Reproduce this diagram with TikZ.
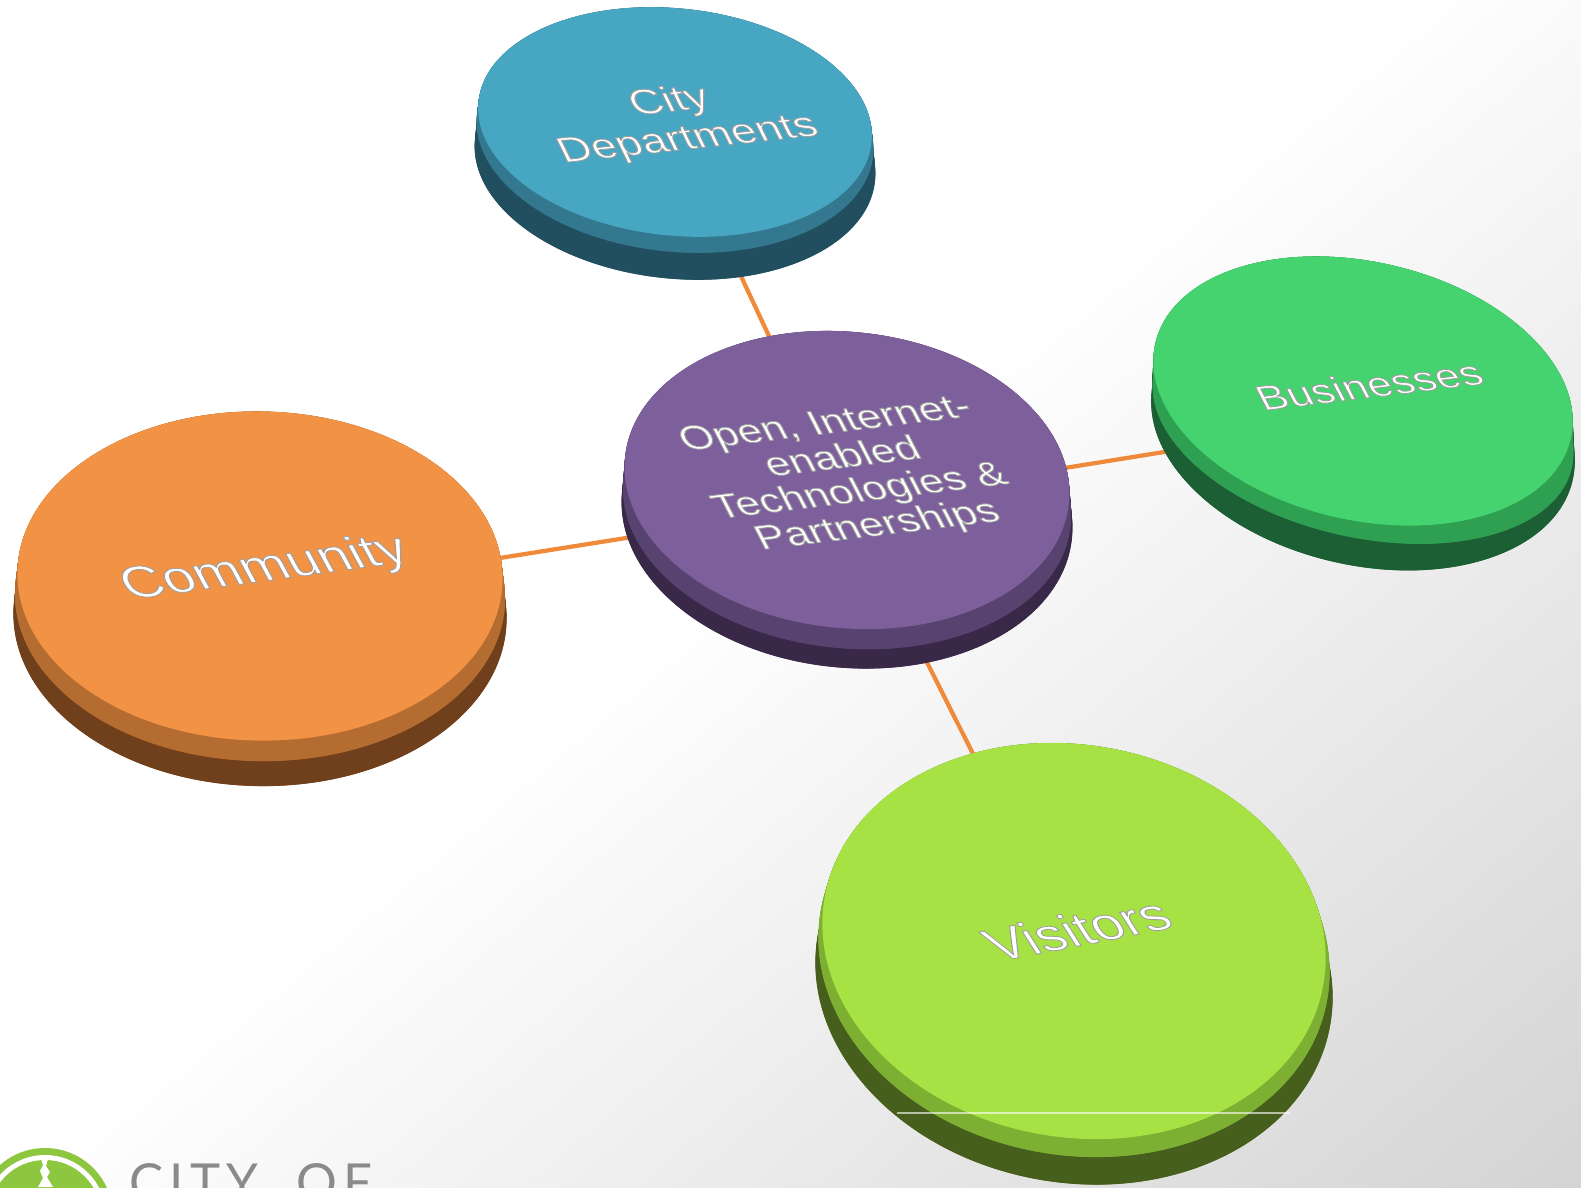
\documentclass[tikz,border=0pt]{standalone}
\usepackage{fontspec}
\setmainfont{Liberation Sans}
\newfontfamily\logofont[LetterSpace=12]{Lato}
\usetikzlibrary{shapes.geometric}
\pgfdeclarelayer{links}
\pgfsetlayers{links,main}

\definecolor{cityTop}{HTML}{47A6C2}\definecolor{cityMid}{HTML}{33788F}\definecolor{cityLow}{HTML}{224F60}
\definecolor{hubTop}{HTML}{7D5F9B}\definecolor{hubMid}{HTML}{584270}\definecolor{hubLow}{HTML}{3A2848}
\definecolor{comTop}{HTML}{F29244}\definecolor{comMid}{HTML}{B56C30}\definecolor{comLow}{HTML}{70401C}
\definecolor{busTop}{HTML}{44D36E}\definecolor{busMid}{HTML}{2F9F52}\definecolor{busLow}{HTML}{1D5F35}
\definecolor{visTop}{HTML}{A6E244}\definecolor{visMid}{HTML}{7DAF33}\definecolor{visLow}{HTML}{465F1C}
\definecolor{linkOrange}{HTML}{EE8A3A}
\definecolor{logoGreen}{HTML}{8DC63F}
\definecolor{logoGray}{HTML}{8A8A8A}
\definecolor{bgGray}{HTML}{D4D4D4}

\pgfdeclareverticalshading{bgfade}{100bp}{color(0bp)=(bgGray); color(15bp)=(bgGray); color(52bp)=(white); color(100bp)=(white)}

% contorno cinza nas letras
\newcommand{\lift}{\special{pdf:code 2 Tr 0.3 w 0.62 0.62 0.62 RG}}

% corpo do disco: cor, angulo, x, y0, y1, largura0, largura1, altura0, altura1
\newcommand{\sweep}[9]{
	\foreach \t in {0,0.05,...,1.01} {
		\pgfmathsetmacro{\yy}{#4+\t*(#5-#4)}
		\pgfmathsetmacro{\aa}{(#6+\t*(#7-#6))/2}
		\pgfmathsetmacro{\bb}{(#8+\t*(#9-#8))/2}
		\fill[#1, rotate around={#2:(#3,\yy)}] (#3,\yy) ellipse [x radius=\aa, y radius=\bb];
	}
}

\tikzset{
  disc/.style={ellipse, inner sep=0pt, minimum width=#1},
  link/.style={line width=1.2pt, linkOrange},
  label/.style={text=white, align=center, inner sep=0pt, xslant=-0.3, yscale=0.74},
}

\begin{document}
\begin{tikzpicture}[x=0.01cm, y=-0.01cm]
	\clip (0,0) rectangle (1581,1187);
	\useasboundingbox (0,0) rectangle (1581,1187);

	% Fundo
	\begin{pgfonlayer}{links}
		\shade[shading=bgfade, shading angle=40] (0,0) rectangle (1581,1187);
	\end{pgfonlayer}

	% Discos
	\sweep{cityLow}{-6}{675}{122}{160}{395}{402}{227}{237}
	\node[disc=4.02cm, minimum height=2.37cm, rotate=-6, fill=cityLow] (cityLow) at (675,160) {};
	\sweep{cityMid}{-6}{675}{122}{135}{395}{398}{227}{233}
	\node[disc=3.98cm, minimum height=2.33cm, rotate=-6, fill=cityMid] (cityMid) at (675,135) {};
	\node[disc=3.95cm, minimum height=2.27cm, rotate=-6, fill=cityTop] (cityTop) at (675,122) {};

	\sweep{hubLow}{-6}{847}{480}{515}{446}{452}{296}{305}
	\node[disc=4.52cm, minimum height=3.05cm, rotate=-6, fill=hubLow] (hubLow) at (847,515) {};
	\sweep{hubMid}{-6}{847}{480}{503}{446}{449}{296}{290}
	\node[disc=4.49cm, minimum height=2.9cm, rotate=-6, fill=hubMid] (hubMid) at (847,503) {};
	\node[disc=4.46cm, minimum height=2.96cm, rotate=-6, fill=hubTop] (hubTop) at (847,480) {};

	\sweep{comLow}{-1}{260}{576}{616}{485}{493}{329}{340}
	\node[disc=4.93cm, minimum height=3.4cm, rotate=-1, fill=comLow] (comLow) at (260,616) {};
	\sweep{comMid}{-1}{260}{576}{596}{485}{490}{329}{330}
	\node[disc=4.9cm, minimum height=3.3cm, rotate=-1, fill=comMid] (comMid) at (260,596) {};
	\node[disc=4.85cm, minimum height=3.29cm, rotate=-1, fill=comTop] (comTop) at (260,576) {};

	\sweep{busLow}{-13}{1363}{391}{432}{426}{430}{258}{266}
	\node[disc=4.3cm, minimum height=2.66cm, rotate=-13, fill=busLow] (busLow) at (1363,432) {};
	\sweep{busMid}{-13}{1363}{391}{420}{426}{428}{258}{234}
	\node[disc=4.28cm, minimum height=2.34cm, rotate=-13, fill=busMid] (busMid) at (1363,420) {};
	\node[disc=4.26cm, minimum height=2.58cm, rotate=-13, fill=busTop] (busTop) at (1363,391) {};

	\sweep{visLow}{-10}{1074}{941}{980}{506}{520}{392}{405}
	\node[disc=5.2cm, minimum height=4.05cm, rotate=-10, fill=visLow] (visLow) at (1074,980) {};
	\sweep{visMid}{-10}{1074}{941}{955}{506}{514}{392}{400}
	\node[disc=5.14cm, minimum height=4cm, rotate=-10, fill=visMid] (visMid) at (1074,955) {};
	\node[disc=5.06cm, minimum height=3.92cm, rotate=-10, fill=visTop] (visTop) at (1074,941) {};

	% Ligacoes
	\begin{pgfonlayer}{links}
		\draw[link] (cityMid) -- (hubMid);
		\draw[link] (comMid) -- (hubMid);
		\draw[link] (hubMid) -- (busMid);
		\draw[link] (hubMid) -- (visMid);
	\end{pgfonlayer}

	% Fio claro sobre o disco
	\coordinate (seamA) at (897,1113);
	\coordinate (seamB) at (1290,1113);
	\draw[white, opacity=0.6, line width=0.3pt] (seamA) -- (seamB);

	% Textos
	\node[label, rotate=8, font=\fontsize{13.3}{14.6}\selectfont] (cityText) at (679,121) {\lift City\\Departments};
	\node[label, rotate=9, font=\fontsize{12.8}{13.2}\selectfont] (hubText) at (852,476) {\lift Open, Internet-\\enabled\\Technologies \&\\Partnerships};
	\node[label, rotate=10, font=\fontsize{16.8}{19}\selectfont] (comText) at (265,569) {\lift Community};
	\node[label, rotate=9, font=\fontsize{13}{16}\selectfont] (busText) at (1369,385) {\lift Businesses};
	\node[label, rotate=14, font=\fontsize{17}{20}\selectfont] (visText) at (1077,929) {\lift Visitors};

	% Logotipo
	\fill[logoGreen] (45,1216) circle (68);
	\fill[white] (45,1216) circle (61);
	\fill[logoGreen] (45,1216) circle (56);
	\fill[white] (41,1159) -- (48,1159) -- (46,1166) -- (50,1172) -- (47,1177) -- (53,1187) -- (38,1187) -- (43,1178) -- (40,1171) -- (43,1165) -- cycle;
	\node[anchor=base west, inner sep=0pt, text=logoGray, font=\logofont\fontsize{14.5}{16}\selectfont] (logoText) at (129,1200) {CITY\hspace{0.75em}OF};
\end{tikzpicture}
\end{document}
